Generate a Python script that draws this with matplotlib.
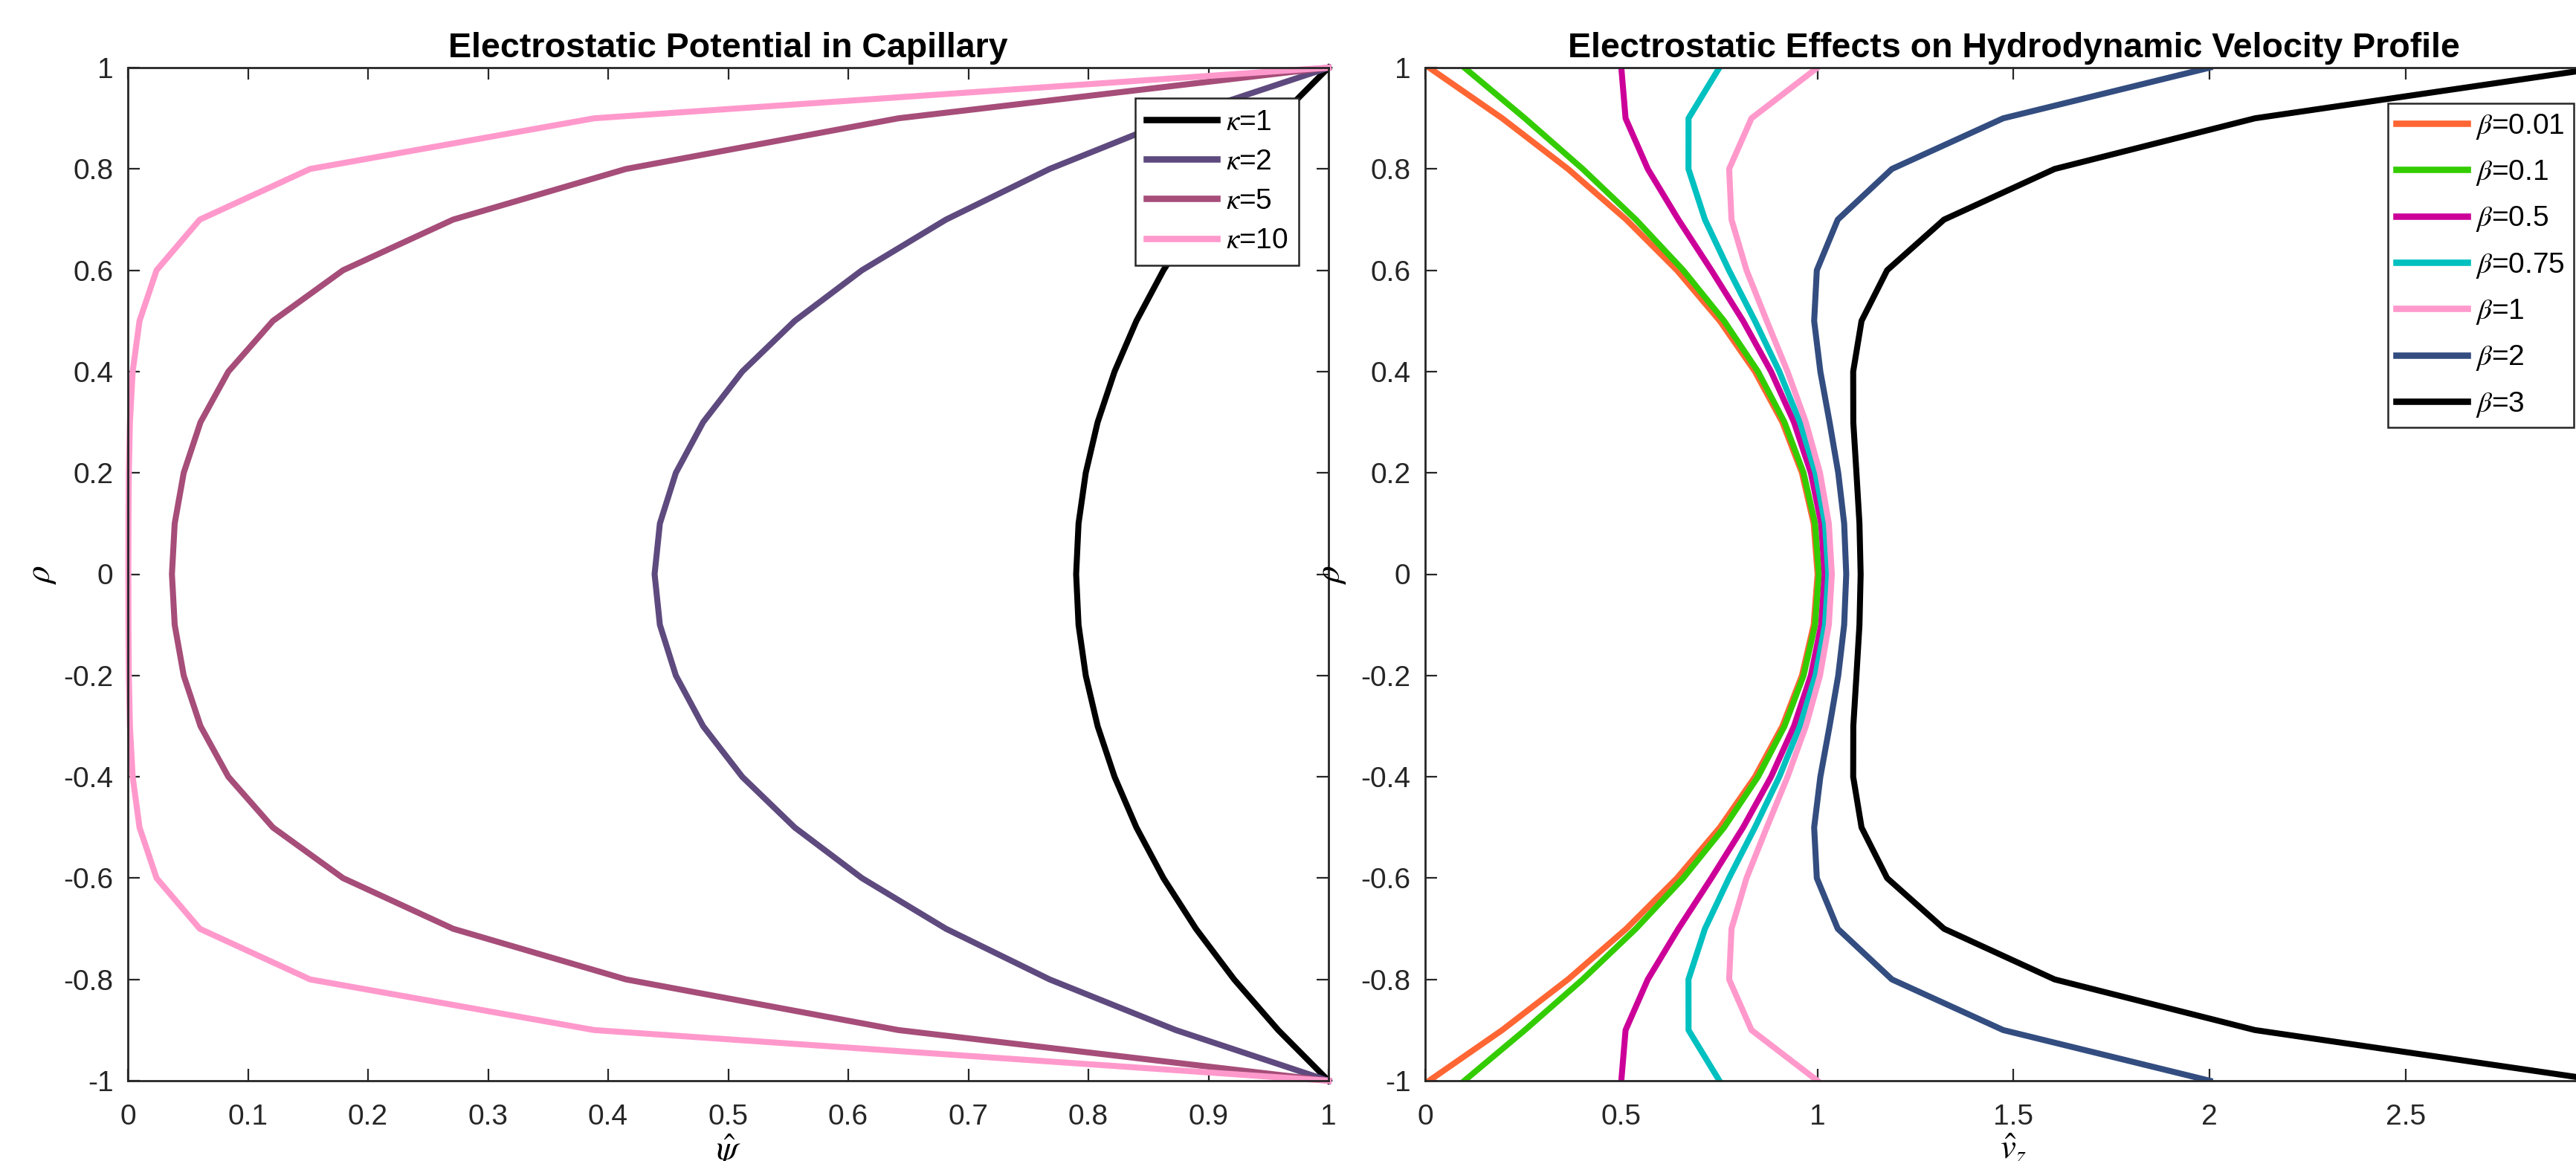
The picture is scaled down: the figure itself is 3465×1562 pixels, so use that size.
import matplotlib
matplotlib.use("Agg")
import matplotlib.pyplot as plt

plt.rcParams['font.family'] = ['Liberation Sans', 'DejaVu Sans']
plt.rcParams['mathtext.fontset'] = 'stix'
plt.rcParams['axes.unicode_minus'] = False

# radial coordinate rho from -1 to 1
rho = [-1.0, -0.9, -0.8, -0.7, -0.6, -0.5, -0.4, -0.3, -0.2, -0.1, 0.0,
       0.1, 0.2, 0.3, 0.4, 0.5, 0.6, 0.7, 0.8, 0.9, 1.0]

# electrostatic potential psi for each kappa
kappa_labels = [r'$\kappa$=1', r'$\kappa$=2', r'$\kappa$=5', r'$\kappa$=10']
psi_k1 = [1.0, 0.9581, 0.9214, 0.8896, 0.8625, 0.8400, 0.8218, 0.8077, 0.7978, 0.7918, 0.7898,
          0.7918, 0.7978, 0.8077, 0.8218, 0.8400, 0.8625, 0.8896, 0.9214, 0.9581, 1.0]
psi_k2 = [1.0, 0.8728, 0.7677, 0.6814, 0.6114, 0.5554, 0.5117, 0.4791, 0.4564, 0.4431, 0.4387,
          0.4431, 0.4564, 0.4791, 0.5117, 0.5554, 0.6114, 0.6814, 0.7677, 0.8728, 1.0]
psi_k5 = [1.0, 0.6418, 0.4149, 0.2709, 0.1792, 0.1208, 0.0837, 0.0605, 0.0465, 0.0390, 0.0367,
          0.0390, 0.0465, 0.0605, 0.0837, 0.1208, 0.1792, 0.2709, 0.4149, 0.6418, 1.0]
psi_k10 = [1.0, 0.3884, 0.1518, 0.0599, 0.0239, 0.0097, 0.0040, 0.0017, 0.0008, 0.0005, 0.0004,
           0.0005, 0.0008, 0.0017, 0.0040, 0.0097, 0.0239, 0.0599, 0.1518, 0.3884, 1.0]
kappa_colors = ['#000000', '#5E4A7E', '#A64D79', '#FF99CC']

# hydrodynamic velocity profile for each beta
beta_labels = [r'$\beta$=0.01', r'$\beta$=0.1', r'$\beta$=0.5', r'$\beta$=0.75',
               r'$\beta$=1', r'$\beta$=2', r'$\beta$=3']
v_b001 = [0.01, 0.1964, 0.3641, 0.5127, 0.6418, 0.7512, 0.8408, 0.9106, 0.9605, 0.9904, 1.0004,
          0.9904, 0.9605, 0.9106, 0.8408, 0.7512, 0.6418, 0.5127, 0.3641, 0.1964, 0.01]
v_b01 = [0.1, 0.2542, 0.4015, 0.5371, 0.6579, 0.7621, 0.8484, 0.9160, 0.9646, 0.9939, 1.0037,
         0.9939, 0.9646, 0.9160, 0.8484, 0.7621, 0.6579, 0.5371, 0.4015, 0.2542, 0.1]
v_b05 = [0.5, 0.5109, 0.5675, 0.6455, 0.7296, 0.8104, 0.8818, 0.9402, 0.9832, 1.0095, 1.0184,
         1.0095, 0.9832, 0.9402, 0.8818, 0.8104, 0.7296, 0.6455, 0.5675, 0.5109, 0.5]
v_b075 = [0.75, 0.6714, 0.6712, 0.7132, 0.7744, 0.8406, 0.9028, 0.9553, 0.9949, 1.0193, 1.0275,
          1.0193, 0.9949, 0.9553, 0.9028, 0.8406, 0.7744, 0.7132, 0.6712, 0.6714, 0.75]
v_b1 = [1.0, 0.8318, 0.7749, 0.7809, 0.8192, 0.8708, 0.9237, 0.9705, 1.0065, 1.0290, 1.0367,
        1.0290, 1.0065, 0.9705, 0.9237, 0.8708, 0.8192, 0.7809, 0.7749, 0.8318, 1.0]
v_b2 = [2.0, 1.4736, 1.1898, 1.0518, 0.9984, 0.9916, 1.0074, 1.0309, 1.0530, 1.0681, 1.0734,
        1.0681, 1.0530, 1.0309, 1.0074, 0.9916, 0.9984, 1.0518, 1.1898, 1.4736, 2.0]
v_b3 = [3.0, 2.1154, 1.6047, 1.3227, 1.1776, 1.1124, 1.0911, 1.0914, 1.0994, 1.1071, 1.1101,
        1.1071, 1.0994, 1.0914, 1.0911, 1.1124, 1.1776, 1.3227, 1.6047, 2.1154, 3.0]
beta_colors = ['#FF6633', '#33CC00', '#CC0099', '#00C0C0', '#FF99CC', '#334D80', '#000000']

yticks = [-1, -0.8, -0.6, -0.4, -0.2, 0, 0.2, 0.4, 0.6, 0.8, 1]
yticklabels = ['-1', '-0.8', '-0.6', '-0.4', '-0.2', '0', '0.2', '0.4', '0.6', '0.8', '1']
xticks_left = [0, 0.1, 0.2, 0.3, 0.4, 0.5, 0.6, 0.7, 0.8, 0.9, 1]
xticklabels_left = ['0', '0.1', '0.2', '0.3', '0.4', '0.5', '0.6', '0.7', '0.8', '0.9', '1']
xticks_right = [0, 0.5, 1, 1.5, 2, 2.5]
xticklabels_right = ['0', '0.5', '1', '1.5', '2', '2.5']

W, H = 3465, 1562
fig = plt.figure(figsize=(W / 100, H / 100), dpi=100)

# axes placed like the original export (right panel runs past the figure edge)
ax1 = fig.add_axes([172 / W, 1 - 1454 / H, (1787 - 172) / W, (1454 - 91) / H])
ax2 = fig.add_axes([1917 / W, 1 - 1454 / H, (3500 - 1917) / W, (1454 - 91) / H])


def style_axes(ax, label_x):
    for s in ax.spines.values():
        s.set_color('#262626')
        s.set_linewidth(2.0)
    ax.tick_params(direction='in', length=11.5, width=1.6, top=True, right=True,
                   labelsize=28, colors='#262626')
    ax.tick_params(axis='x', pad=22)
    ax.tick_params(axis='y', pad=14)
    ax.set_yticks(yticks)
    ax.set_yticklabels(yticklabels)
    ax.set_ylim(-1, 1)
    ax.set_ylabel(r'$\rho$', fontsize=34)
    ax.yaxis.set_label_coords(label_x, 0.5)


def add_legend(ax, right_px, ax_left, ax_right, top_px, spacing, bpad):
    leg = ax.legend(loc='upper right',
                    bbox_to_anchor=((right_px - ax_left) / (ax_right - ax_left), 1 - (top_px - 91) / 1363),
                    borderaxespad=0, fontsize=28, handlelength=2.45, handletextpad=0.3,
                    labelspacing=spacing, borderpad=bpad, fancybox=False, framealpha=1,
                    edgecolor='#262626')
    leg.get_frame().set_linewidth(1.8)
    for ln in leg.get_lines():
        ln.set_linewidth(6.2)
    return leg


# left panel: potential
for vals, lab, col in zip([psi_k1, psi_k2, psi_k5, psi_k10], kappa_labels, kappa_colors):
    ax1.plot(vals, rho, color=col, lw=5.8, label=lab, clip_on=False)
style_axes(ax1, -0.058)
ax1.set_xlim(0, 1)
ax1.set_xticks(xticks_left)
ax1.set_xticklabels(xticklabels_left)
ax1.set_xlabel(r'$\hat{\psi}$', fontsize=34, labelpad=2)
ax1.set_title('Electrostatic Potential in Capillary', fontsize=33.5, fontweight='bold', pad=10)
add_legend(ax1, 1747, 172, 1787, 132, 0.44, 0.38)

# right panel: velocity
for vals, lab, col in zip([v_b001, v_b01, v_b05, v_b075, v_b1, v_b2, v_b3], beta_labels, beta_colors):
    ax2.plot(vals, rho, color=col, lw=5.8, label=lab)
style_axes(ax2, -0.066)
ax2.set_xlim(0, 3)
ax2.set_xticks(xticks_right)
ax2.set_xticklabels(xticklabels_right)
ax2.set_xlabel(r'$\hat{v}_z$', fontsize=34, labelpad=2)
ax2.set_title('Electrostatic Effects on Hydrodynamic Velocity Profile', fontsize=33.5,
              fontweight='bold', pad=10)
add_legend(ax2, 3462, 1917, 3500, 139, 0.6, 0.3)

fig.savefig('out.png', dpi=100)
